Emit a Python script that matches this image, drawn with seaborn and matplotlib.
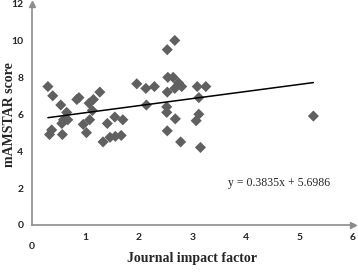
import seaborn as sns
import matplotlib.pyplot as plt
import pandas as pd
import numpy as np

# journal impact factor vs mAMSTAR score
impact = [0.30, 0.39, 0.54, 0.65, 0.59, 0.67, 0.56, 0.37, 0.33, 0.57,
          0.84, 0.88, 1.07, 1.15, 1.27, 1.13, 1.08, 0.96, 1.02, 1.33,
          1.41, 1.55, 1.70, 1.46, 1.56, 1.67, 1.96, 2.13, 2.29, 2.14,
          2.53, 2.67, 2.54, 2.64, 2.74, 2.80, 2.67, 2.53, 3.09, 3.25,
          3.12, 2.52, 2.52, 2.68, 3.12, 3.07, 2.53, 2.78, 3.15, 5.26]
score = [7.5, 7.0, 6.5, 6.1, 5.7, 5.7, 5.5, 5.15, 4.9, 4.9,
         6.8, 6.9, 6.6, 6.8, 7.2, 6.2, 5.7, 5.45, 5.0, 4.5,
         5.5, 5.85, 5.7, 4.75, 4.8, 4.85, 7.65, 7.4, 7.5, 6.5,
         9.5, 10.0, 8.0, 8.0, 7.7, 7.5, 7.4, 7.2, 7.5, 7.5,
         6.9, 6.4, 6.1, 5.75, 6.0, 5.65, 5.1, 4.5, 4.2, 5.9]
slope = 0.3835
intercept = 5.6986
eq_label = 'y = 0.3835x + 5.6986'
xticks = [0, 1, 2, 3, 4, 5, 6]
yticks = [0, 2, 4, 6, 8, 10, 12]

df = pd.DataFrame({'impact': impact, 'score': score})
fit_x = np.array([min(impact), max(impact)])
fit = pd.DataFrame({'impact': fit_x, 'score': slope * fit_x + intercept})

sns.set_style('white')
fig = plt.figure(figsize=(3.58, 2.72), dpi=100)
ax = fig.add_axes([0.089, 0.173, 0.897, 0.814])

sns.scatterplot(data=df, x='impact', y='score', marker='D', s=32,
                color='#606060', edgecolor='none', ax=ax, zorder=3)
sns.lineplot(data=fit, x='impact', y='score', color='black', lw=1.1, ax=ax, zorder=4)

ax.set_xlim(0, 6)
ax.set_ylim(0, 12)
ax.set_xticks(xticks)
ax.set_yticks(yticks)
ax.set_xticklabels(['' if t == 0 else str(t) for t in xticks])
ax.text(0, -0.9, '0', ha='center', va='top', fontsize=7.5, fontweight='bold',
        family='Lato')

grey = '#8c8c8c'
for s in ['top', 'right']:
    ax.spines[s].set_visible(False)
for s in ['left', 'bottom']:
    ax.spines[s].set_color(grey)
    ax.spines[s].set_linewidth(1.2)
ax.tick_params(axis='both', direction='out', length=3, width=1, color=grey,
               labelsize=7.5, pad=3)
for lab in ax.get_xticklabels() + ax.get_yticklabels():
    lab.set_fontweight('bold')
    lab.set_family('Lato')

# arrow heads on the axis ends
ax.plot(0, 1, marker='^', color=grey, ms=5, transform=ax.transAxes, clip_on=False)
ax.plot(1, 0, marker='>', color=grey, ms=5, transform=ax.transAxes, clip_on=False)

ax.set_xlabel('Journal impact factor', family='Liberation Serif', fontweight='bold',
              fontsize=10, labelpad=7)
ax.set_ylabel('mAMSTAR score', family='Liberation Serif', fontweight='bold',
              fontsize=10)
ax.yaxis.set_label_coords(-0.048, 0.5)

ax.text(3.66, 2.3, eq_label, family='Liberation Serif', fontsize=8.5, va='center')

plt.savefig('out.png', dpi=100)
